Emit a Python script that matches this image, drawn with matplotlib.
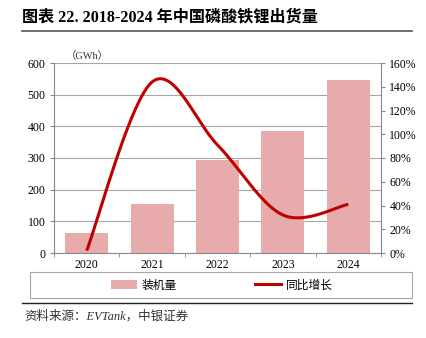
import numpy as np
import matplotlib
matplotlib.use("Agg")
import matplotlib.pyplot as plt
from matplotlib.lines import Line2D
from matplotlib.patches import Rectangle, Patch

years = ["2020", "2021", "2022", "2023", "2024"]
shipments = [63, 154, 294, 386, 546]          # GWh
yoy = [2, 144, 91, 32, 41]                    # %
left_ticks = [0, 100, 200, 300, 400, 500, 600]
right_ticks = [0, 20, 40, 60, 80, 100, 120, 140, 160]

SERIF = ["Liberation Serif", "Noto Sans CJK SC"]
CJK = ["Noto Sans CJK SC", "Liberation Serif"]
BAR_C = "#E8ABAB"
LINE_C = "#C00000"

fig = plt.figure(figsize=(4.26, 3.38), dpi=100)
ax = fig.add_axes([54/426, 1-253/338, 327/426, 190/338])
ax2 = ax.twinx()

x = np.arange(len(years))
ax.bar(x, shipments, width=0.66, color=BAR_C, zorder=2)
ax.set_xlim(-0.5, len(years)-0.5)
ax.set_ylim(0, 600)
ax.set_yticks(left_ticks)
ax.set_yticklabels([str(t) for t in left_ticks], family=SERIF, fontsize=8.5)
ax.set_xticks(x)
ax.set_xticklabels(years, family=SERIF, fontsize=8.5)
ax.set_xticks(np.arange(len(years)+1)-0.5, minor=True)
ax.tick_params(axis='x', which='major', length=0, pad=4)
ax.tick_params(axis='x', which='minor', length=3, color="#888888")
ax.tick_params(axis='y', length=3, color="#888888", pad=3)
ax.grid(axis='y', color="#A6A6A6", lw=0.8, zorder=0)
ax.set_axisbelow(True)
for s in ["top", "right"]:
    ax.spines[s].set_visible(False)
ax.spines["left"].set_color("#888888")
ax.spines["bottom"].set_color("#888888")

# Excel-style smoothed line (cubic Bezier through points)
yv = np.array(yoy, dtype=float)
xv = x.astype(float)
px = np.concatenate([[xv[0]], xv, [xv[-1]]])
py = np.concatenate([[yv[0]], yv, [yv[-1]]])
cx, cy = [], []
t = np.linspace(0, 1, 40)
for i in range(len(xv)-1):
    p0 = np.array([px[i+1], py[i+1]])
    p3 = np.array([px[i+2], py[i+2]])
    c1 = p0 + (np.array([px[i+2], py[i+2]]) - np.array([px[i], py[i]])) / 6
    c2 = p3 - (np.array([px[i+3], py[i+3]]) - np.array([px[i+1], py[i+1]])) / 6
    b = ((1-t)**3)[:, None]*p0 + (3*(1-t)**2*t)[:, None]*c1 + (3*(1-t)*t**2)[:, None]*c2 + (t**3)[:, None]*p3
    cx.extend(b[:, 0]); cy.extend(b[:, 1])
ax2.plot(cx, cy, color=LINE_C, lw=2.2, solid_capstyle='butt', zorder=3)
ax2.set_ylim(0, 160)
ax2.set_yticks(right_ticks)
ax2.set_yticklabels([f"{t}%" for t in right_ticks], family=SERIF, fontsize=8.5)
ax2.tick_params(axis='y', length=3, color="#888888", pad=3)
for s in ["top", "left", "bottom"]:
    ax2.spines[s].set_visible(False)
ax2.spines["right"].set_color("#888888")

fig.text(66/426, 1-61/338, "（GWh）", family=SERIF, fontsize=7.5,
         ha='left', va='bottom', color="#333333")

# Title
fig.text(22/426, 1-17/338, "图表 22. 2018-2024 年中国磷酸铁锂出货量", family=["Liberation Serif", "Noto Sans CJK SC"],
         fontsize=11.6, fontweight='bold', ha='left', va='center')
fig.add_artist(Line2D([22/426, 412/426], [1-31/338, 1-31/338], color="#555555", lw=1.2))

# Legend box
fig.add_artist(Rectangle((30/426, 1-298/338), 382/426, 26/338, fill=False, edgecolor="#A6A6A6", lw=0.8))
handles = [Patch(facecolor=BAR_C, edgecolor='none'), Line2D([], [], color=LINE_C, lw=2.2)]
leg = fig.legend(handles, ["装机量", "同比增长"], loc='center', bbox_to_anchor=(222/426, 1-285/338),
                 ncol=2, frameon=False, prop={'family': CJK, 'size': 8.5}, columnspacing=6.6,
                 handlelength=2.2, handleheight=0.7, handletextpad=0.4)

fig.add_artist(Line2D([22/426, 412/426], [1-303/338, 1-303/338], color="#222222", lw=1.0))
fig.text(24/426, 1-316/338, "资料来源：EVTank，中银证券", family=["Liberation Serif", "Noto Sans CJK SC"],
         style='italic', fontsize=9, ha='left', va='center', color="#333333")

fig.savefig("out.png", dpi=100)
